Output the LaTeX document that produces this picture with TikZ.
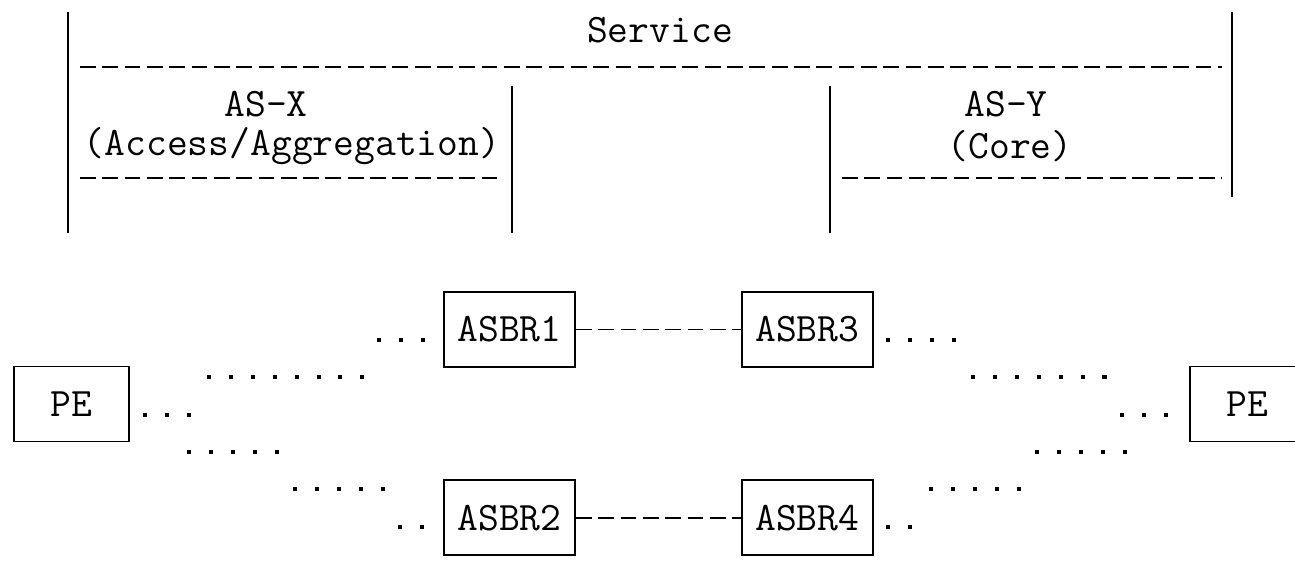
\documentclass[tikz,border=0pt]{standalone}
\usepackage{fontspec}
\usetikzlibrary{positioning}
\begin{document}
\begin{tikzpicture}[
    x=0.02cm, y=-0.02cm,
    every node/.style={
        font=\ttfamily\fontsize{23}{27}\selectfont,
        inner sep=0pt
    },
    router/.style={
        draw, line width=1.1pt,
        minimum width=2.62cm, minimum height=1.5cm
    },
    pe/.style={router, minimum width=2.3cm},
    pipe/.style={line width=1.1pt},
    hyph/.style={line width=1.1pt, dash pattern=on 9pt off 3.7pt},
    dots/.style={line width=2.3pt, dash pattern=on 2.3pt off 10.17pt}
]
\useasboundingbox (0,0) rectangle (1295,563);
\clip (0,0) rectangle (1295,563);

% service and AS bands
\draw[pipe] (68,12) -- (68,233);
\draw[pipe] (1232,12) -- (1232,197);
\draw[pipe] (512,86) -- (512,233);
\draw[pipe] (830,86) -- (830,233);
\draw[hyph] (80,67) -- (1222,67);
\draw[hyph] (80,178) -- (500,178);
\draw[hyph] (842,178) -- (1222,178);

\node (service) at (660,30) {Service};
\node (asx) at (266,104) {AS-X};
\node (asxsub) at (292,146) {(Access/Aggregation)};
\node (asy) at (1006,104) {AS-Y};
\node (asysub) at (1010,146) {(Core)};

% routers
\node[router] (asbr1) at (509.5,329.5) {ASBR1};
\node[router, right=3.3cm of asbr1] (asbr3) {ASBR3};
\node[router, below=2.23cm of asbr1] (asbr2) {ASBR2};
\node[router, below=2.23cm of asbr3] (asbr4) {ASBR4};
\node[pe] (peL) at (71.5,404) {PE};
\node[pe] (peR) at (1247.5,404) {PE};

\draw[hyph] (asbr1) -- (asbr3);
\draw[hyph] (asbr2) -- (asbr4);

% dotted runs: first dot x / baseline y / number of dots
\foreach \x/\y/\n in {377/340/3, 207/377/8, 143/415/3, 187/452/5,
        293/489/5, 398/527/2, 886/340/4, 971/377/7, 1120/415/3,
        1035/452/5, 929/489/5, 886/527/2}
    \draw[dots] (\x,\y) -- ++({(\n-1)*22+4},0);
\end{tikzpicture}
\end{document}
